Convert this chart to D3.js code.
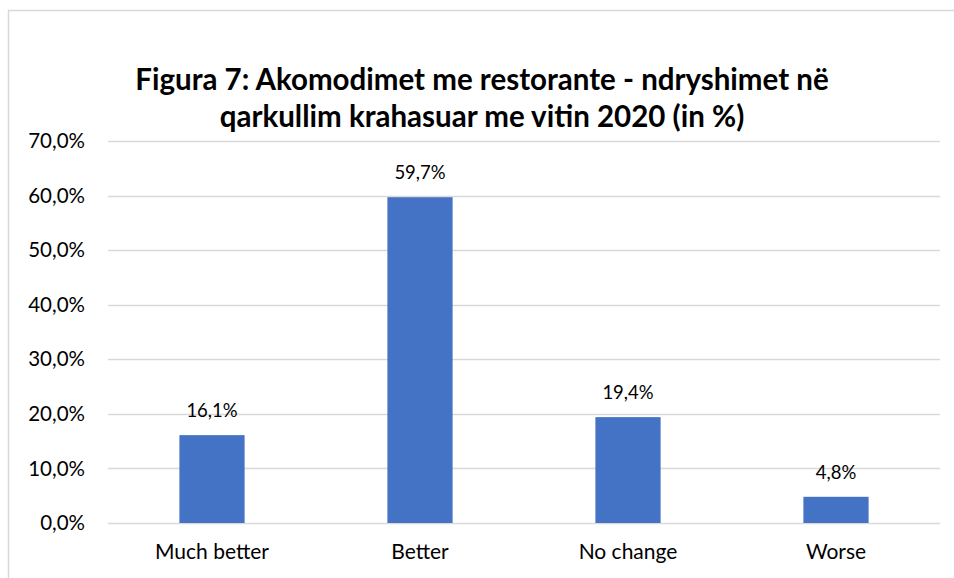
<!DOCTYPE html>
<html>
<head>
    <meta charset="UTF-8">
    <title>Figura 7</title>
    <style>
        body { margin: 0; background: #fff; }
        text { font-family: Lato, "Open Sans", sans-serif; }
    </style>
</head>
<body>
    <div id="chart"></div>
    <script src="https://cdn.jsdelivr.net/npm/d3@7"></script>
    <script>
        // data
        const categories = ["Much better", "Better", "No change", "Worse"];
        const values = [16.1, 59.7, 19.4, 4.8];
        const yTicks = [0, 10, 20, 30, 40, 50, 60, 70];
        const titleLines = [
            "Figura 7: Akomodimet me restorante - ndryshimet në",
            "qarkullim krahasuar me vitin 2020 (in %)"
        ];

        const W = 954, H = 578;
        const plot = { left: 108, right: 940, top: 141, bottom: 523 };
        const fmt = v => v.toFixed(1).replace(".", ",") + "%";

        const svg = d3.select("#chart").append("svg")
            .attr("width", W)
            .attr("height", H);

        // chart area border (right and bottom run off the page)
        svg.append("rect")
            .attr("x", 8.5).attr("y", 10.5)
            .attr("width", W + 10).attr("height", H + 10)
            .attr("fill", "#fff")
            .attr("stroke", "#d9d9d9").attr("stroke-width", 1.5);

        const x = d3.scaleBand()
            .domain(categories)
            .range([plot.left, plot.right]);
        const y = d3.scaleLinear()
            .domain([0, 70])
            .range([plot.bottom, plot.top]);

        // title
        svg.append("g").selectAll("text").data(titleLines).enter().append("text")
            .attr("x", 482)
            .attr("y", (d, i) => 90 + i * 37)
            .attr("text-anchor", "middle")
            .attr("font-size", "29.5px")
            .attr("font-weight", "bold")
            .attr("fill", "#000")
            .text(d => d);

        // gridlines
        svg.append("g").selectAll("line").data(yTicks).enter().append("line")
            .attr("x1", plot.left).attr("x2", plot.right)
            .attr("y1", d => Math.round(y(d)) + 0.5)
            .attr("y2", d => Math.round(y(d)) + 0.5)
            .attr("stroke", "#d9d9d9").attr("stroke-width", 1.5);

        // y axis labels
        svg.append("g").selectAll("text").data(yTicks).enter().append("text")
            .attr("x", 85)
            .attr("y", d => y(d))
            .attr("dy", "0.35em")
            .attr("text-anchor", "end")
            .attr("font-size", "20.5px")
            .attr("fill", "#000")
            .text(d => fmt(d));

        // bars, gap width ~219%
        const barW = x.bandwidth() / 3.19;
        const data = categories.map((c, i) => ({ cat: c, val: values[i] }));
        svg.append("g").selectAll("rect").data(data).enter().append("rect")
            .attr("x", d => x(d.cat) + (x.bandwidth() - barW) / 2)
            .attr("y", d => y(d.val))
            .attr("width", barW)
            .attr("height", d => y(0) - y(d.val))
            .attr("fill", "#4472c4");

        // value labels
        svg.append("g").selectAll("text").data(data).enter().append("text")
            .attr("x", d => x(d.cat) + x.bandwidth() / 2)
            .attr("y", d => y(d.val) - 18)
            .attr("text-anchor", "middle")
            .attr("font-size", "18.5px")
            .attr("fill", "#000")
            .text(d => fmt(d.val));

        // category labels
        svg.append("g").selectAll("text").data(categories).enter().append("text")
            .attr("x", d => x(d) + x.bandwidth() / 2)
            .attr("y", 559)
            .attr("text-anchor", "middle")
            .attr("font-size", "21px")
            .attr("fill", "#000")
            .text(d => d);
    </script>
</body>
</html>
